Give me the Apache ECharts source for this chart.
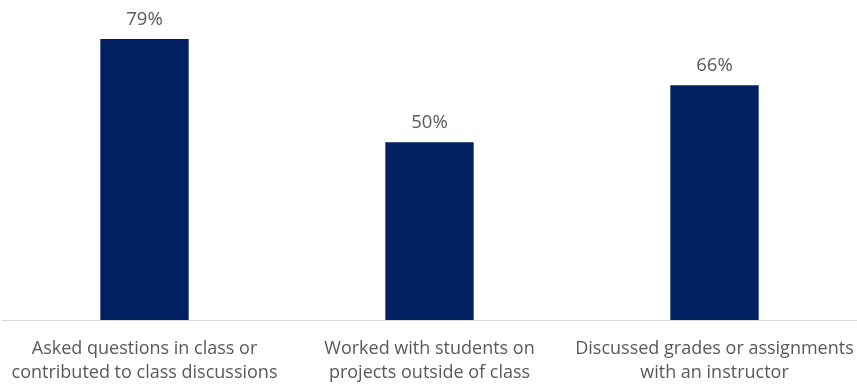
<!DOCTYPE html>
<html>
<head>
<meta charset="utf-8">
<script src="https://cdn.jsdelivr.net/npm/echarts@6/dist/echarts.min.js"></script>
<style>
  html, body { margin: 0; padding: 0; background: #fff; }
  #chart { width: 857px; height: 388px; }
</style>
</head>
<body>
<div id="chart"></div>
<script>
// categories and values
let categories = [
      'Asked questions in class or\ncontributed to class discussions',
      'Worked with students on\nprojects outside of class',
      'Discussed grades or assignments\nwith an instructor'
];
let shares = [79, 50, 66];

let chart = echarts.init(document.getElementById('chart'));
let option = {
      animation: false,
      backgroundColor: '#ffffff',
      grid: {
            left: 2,
            right: 0,
            top: 0,
            bottom: 68
      },
      xAxis: {
            type: 'category',
            data: categories,
            axisLine: { lineStyle: { color: '#d9d9d9', width: 1 } },
            axisTick: { show: false },
            axisLabel: {
                  color: '#595959',
                  fontFamily: 'Open Sans',
                  fontSize: 18,
                  lineHeight: 24,
                  margin: 17,
                  interval: 0
            }
      },
      yAxis: {
            type: 'value',
            min: 0,
            max: 90,
            show: false,
            splitLine: { show: false }
      },
      series: [{
            type: 'bar',
            data: shares,
            barWidth: '31%',
            itemStyle: { color: '#002060' },
            label: {
                  show: true,
                  position: 'top',
                  distance: 10,
                  formatter: '{c}%',
                  color: '#595959',
                  fontFamily: 'Open Sans',
                  fontSize: 18.5
            }
      }]
};
chart.setOption(option);
</script>
</body>
</html>
